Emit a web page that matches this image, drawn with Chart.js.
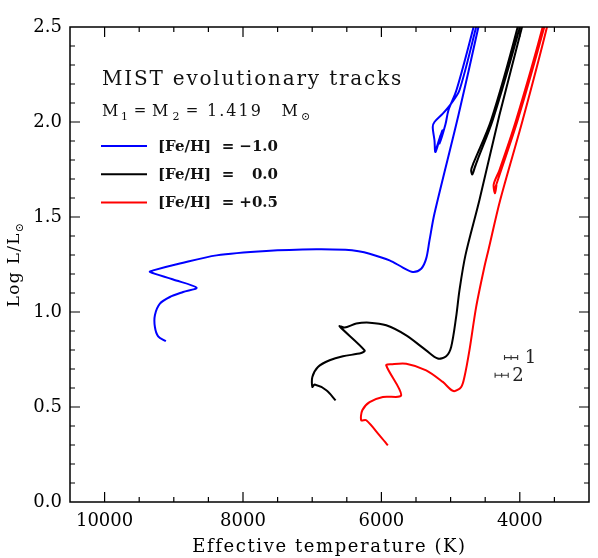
<!DOCTYPE html>
<html>
<head>
<meta charset="utf-8">
<script src="https://cdn.jsdelivr.net/npm/chart.js@4.4.0/dist/chart.umd.min.js"></script>
<style>
html, body { margin: 0; padding: 0; background: #fff; }
</style>
</head>
<body>
<canvas id="hrd" width="598" height="558"></canvas>
<script>
// MIST tracks, M = 1.419 Msun
var blueTeff = [9115, 9226, 9273, 9273, 9201, 9057, 8865, 8672, 9009, 9346, 9298, 8913, 8383, 7662, 6940, 6520, 6330, 6171, 5882, 5690, 5546, 5425, 5353, 5305, 5233, 4887, 4598, 4540,
	4569, 4631, 4872, 4992, 5113, 5233, 5258, 5233, 5219, 5146, 5204, 5118, 5161, 5074, 5031, 4916, 4670, 4612];
var blueLogL = [0.846, 0.872, 0.921, 0.983, 1.044, 1.079, 1.105, 1.128, 1.171, 1.211, 1.219, 1.255, 1.298, 1.321, 1.330, 1.327, 1.320, 1.307, 1.272, 1.234, 1.211, 1.228, 1.281, 1.377, 1.518, 2.035, 2.5, 2.6,
	2.6, 2.5, 2.167, 2.097, 2.044, 2.0, 1.974, 1.904, 1.842, 1.93, 1.862, 1.956, 1.887, 1.988, 2.062, 2.167, 2.498, 2.6];

var blackTeff = [6662, 6796, 6965, 6998, 6998, 6917, 6748, 6556, 6291, 6243, 6604, 6532, 6363, 6171, 5930, 5641, 5353, 5185, 5064, 4992, 4920, 4872, 4786, 4584, 4295, 3968, 3905,
	3992, 4031, 4415, 4670, 4703, 4685, 4641, 4670, 4613, 4392, 3999, 3949];
var blackLogL = [0.535, 0.588, 0.618, 0.605, 0.658, 0.711, 0.746, 0.767, 0.784, 0.798, 0.925, 0.918, 0.939, 0.944, 0.930, 0.877, 0.798, 0.755, 0.767, 0.816, 0.974, 1.114, 1.298, 1.588, 2.035, 2.5, 2.6,
	2.6, 2.5, 2.009, 1.783, 1.746, 1.724, 1.772, 1.74, 1.798, 2.009, 2.5, 2.6];

var redTeff = [5907, 6027, 6219, 6291, 6276, 6171, 5979, 5714, 5930, 5858, 5641, 5353, 5113, 4959, 4848, 4800, 4728, 4631, 4512, 4454, 4284, 3959, 3607, 3559,
	3631, 3670, 4054, 4295, 4377, 4360, 4338, 4367, 4295, 4031, 3646, 3588];
var redLogL = [0.298, 0.351, 0.43, 0.43, 0.483, 0.526, 0.553, 0.562, 0.719, 0.725, 0.728, 0.693, 0.632, 0.584, 0.605, 0.658, 0.798, 1.026, 1.237, 1.325, 1.588, 2.009, 2.5, 2.6,
	2.6, 2.5, 2.009, 1.746, 1.672, 1.625, 1.667, 1.64, 1.719, 2.009, 2.5, 2.6];

// the two stars
var starNames = ['1', '2'];
var starTeff = [4126, 4262];
var starTeffErr = [95, 95];
var starLogL = [0.76, 0.667];
var starLogLErr = [0.012, 0.012];

var trackLabels = ['[Fe/H] = \u22121.0', '[Fe/H] =   0.0', '[Fe/H] = +0.5'];
var trackValues = ['\u22121.0', '0.0', '+0.5'];
var trackColors = ['#0000ff', '#000000', '#ff0000'];

var xTickValues = [4000, 6000, 8000, 10000];
var yTickValues = [0, 0.5, 1.0, 1.5, 2.0, 2.5];

function pts(tx, ly) {
	var out = [];
	for (var i = 0; i < tx.length; i++) out.push({ x: tx[i], y: ly[i] });
	return out;
}

var SERIF = '"DejaVu Serif", serif';

var framePlugin = {
	id: 'frame',
	afterDraw: function(chart) {
		var ctx = chart.ctx;
		var a = chart.chartArea;
		var xs = chart.scales.x, ys = chart.scales.y;
		ctx.save();
		ctx.strokeStyle = '#000';
		ctx.lineWidth = 1.5;
		ctx.strokeRect(a.left, a.top, a.right - a.left, a.bottom - a.top);

		// inward ticks on all four sides
		ctx.lineWidth = 1.2;
		ctx.beginPath();
		for (var t = 3500; t < 10500; t += 500) {
			var px = xs.getPixelForValue(t);
			var len = (t % 2000 === 0) ? 10 : 5;
			ctx.moveTo(px, a.bottom); ctx.lineTo(px, a.bottom - len);
			ctx.moveTo(px, a.top); ctx.lineTo(px, a.top + len);
		}
		for (var k = 1; k < 25; k++) {
			var py = ys.getPixelForValue(k / 10);
			var l2 = (k % 5 === 0) ? 10 : 5;
			ctx.moveTo(a.left, py); ctx.lineTo(a.left + l2, py);
			ctx.moveTo(a.right, py); ctx.lineTo(a.right - l2, py);
		}
		ctx.stroke();

		// error bars of the stars
		ctx.strokeStyle = '#333';
		ctx.fillStyle = '#222';
		ctx.lineWidth = 1.1;
		for (var i = 0; i < starTeff.length; i++) {
			var x1 = xs.getPixelForValue(starTeff[i] + starTeffErr[i]);
			var x2 = xs.getPixelForValue(starTeff[i] - starTeffErr[i]);
			var cx = xs.getPixelForValue(starTeff[i]);
			var cy = ys.getPixelForValue(starLogL[i]);
			var y1 = ys.getPixelForValue(starLogL[i] + starLogLErr[i]);
			var y2 = ys.getPixelForValue(starLogL[i] - starLogLErr[i]);
			ctx.beginPath();
			ctx.moveTo(x1, cy); ctx.lineTo(x2, cy);
			ctx.moveTo(x1, cy - 2.5); ctx.lineTo(x1, cy + 2.5);
			ctx.moveTo(x2, cy - 2.5); ctx.lineTo(x2, cy + 2.5);
			ctx.moveTo(cx, y1); ctx.lineTo(cx, y2);
			ctx.stroke();
			ctx.font = '18px ' + SERIF;
			ctx.textBaseline = 'middle';
			ctx.textAlign = 'left';
			ctx.fillText(starNames[i], x2 + (i === 0 ? 7 : 4), cy + 1);
		}

		// annotation block
		ctx.fillStyle = '#111';
		ctx.textBaseline = 'alphabetic';
		ctx.textAlign = 'left';
		ctx.font = '20px ' + SERIF;
		ctx.letterSpacing = '1.8px';
		ctx.fillText('MIST evolutionary tracks', 102, 85);

		// M1 = M2 = 1.419 Msun, pieces placed one by one
		ctx.letterSpacing = '2px';
		ctx.font = '16px ' + SERIF;
		ctx.fillText('M', 102, 116);
		ctx.fillText('M', 152, 116);
		ctx.fillText('1.419', 207, 116);
		ctx.fillText('M', 281.5, 116);
		ctx.letterSpacing = '0px';
		ctx.textAlign = 'center';
		ctx.font = '15px ' + SERIF;
		ctx.fillText('=', 140, 115);
		ctx.fillText('=', 192, 115);
		ctx.textAlign = 'left';
		ctx.font = '11px ' + SERIF;
		ctx.fillText('1', 121, 120);
		ctx.fillText('2', 172.5, 120);
		ctx.fillText('\u2299', 301, 120);

		for (var j = 0; j < trackLabels.length; j++) {
			var ly = 146 + j * 28.3;
			ctx.strokeStyle = trackColors[j];
			ctx.lineWidth = 2;
			ctx.beginPath();
			ctx.moveTo(101, ly); ctx.lineTo(147, ly);
			ctx.stroke();
			ctx.fillStyle = '#111';
			ctx.font = 'bold 15px ' + SERIF;
			ctx.textBaseline = 'middle';
			ctx.textAlign = 'left';
			ctx.fillText('[Fe/H]', 158, ly + 1);
			ctx.textAlign = 'center';
			ctx.fillText('=', 228, ly + 1);
			ctx.textAlign = 'right';
			ctx.fillText(trackValues[j], 278, ly + 1);
		}

		// axis titles
		ctx.fillStyle = '#000';
		ctx.textAlign = 'center';
		ctx.textBaseline = 'alphabetic';
		ctx.font = '18px ' + SERIF;
		ctx.letterSpacing = '1.6px';
		ctx.fillText('Effective temperature (K)', (a.left + a.right) / 2, 552);

		ctx.translate(19, (a.top + a.bottom) / 2);
		ctx.rotate(-Math.PI / 2);
		ctx.textAlign = 'left';
		ctx.font = '17px ' + SERIF;
		ctx.letterSpacing = '1.3px';
		var w1 = ctx.measureText('Log L/L').width;
		ctx.font = '11px ' + SERIF;
		var w2 = ctx.measureText('\u2299').width;
		var x0 = -(w1 + w2) / 2;
		ctx.font = '17px ' + SERIF;
		ctx.fillText('Log L/L', x0, 0);
		ctx.font = '11px ' + SERIF;
		ctx.fillText('\u2299', x0 + w1, 4);
		ctx.letterSpacing = '0px';
		ctx.restore();
	}
};

var datasets = [];
var trackData = [pts(blueTeff, blueLogL), pts(blackTeff, blackLogL), pts(redTeff, redLogL)];
for (var d = 0; d < trackData.length; d++) {
	datasets.push({
		label: trackLabels[d],
		data: trackData[d],
		borderColor: trackColors[d],
		backgroundColor: trackColors[d],
		showLine: true,
		borderWidth: 2,
		pointRadius: 0,
		tension: 0.3
	});
}

var chart = new Chart(document.getElementById('hrd'), {
	type: 'scatter',
	data: { datasets: datasets },
	options: {
		responsive: false,
		animation: false,
		devicePixelRatio: 1,
		layout: { padding: { top: 27, right: 9, left: 0, bottom: 0 } },
		plugins: { legend: { display: false }, tooltip: { enabled: false } },
		scales: {
			x: {
				type: 'linear',
				reverse: true,
				min: 3000,
				max: 10500,
				border: { display: false },
				grid: { display: false, drawTicks: false },
				afterBuildTicks: function(s) { s.ticks = xTickValues.map(function(v) { return { value: v }; }); },
				afterFit: function(s) { s.height = 56; },
				ticks: {
					padding: 9,
					color: '#000',
					maxRotation: 0,
					autoSkip: false,
					font: { family: 'DejaVu Serif', size: 18 },
					callback: function(v) { return String(v); }
				}
			},
			y: {
				type: 'linear',
				min: 0,
				max: 2.5,
				border: { display: false },
				grid: { display: false, drawTicks: false },
				afterBuildTicks: function(s) { s.ticks = yTickValues.map(function(v) { return { value: v }; }); },
				afterFit: function(s) { s.width = 70; },
				ticks: {
					padding: 8,
					color: '#000',
					font: { family: 'DejaVu Serif', size: 18 },
					callback: function(v) { return v.toFixed(1); }
				}
			}
		}
	},
	plugins: [framePlugin]
});
</script>
</body>
</html>
